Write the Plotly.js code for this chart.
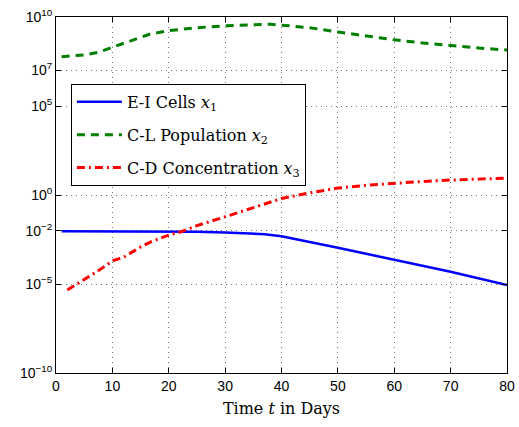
<!DOCTYPE html>
<html>
<head>
<meta charset="utf-8">
<script src="https://cdn.plot.ly/plotly-3.0.1.min.js"></script>
<style>html,body{margin:0;padding:0;background:#fff;}#chart{width:519px;height:427px;}</style>
</head>
<body>
<div id="chart"></div>
<script>
// Series 1: E-I Cells x1
const t1 = [1, 5, 10, 15, 20, 25, 30, 34, 37, 40, 42, 45, 50, 55, 60, 65, 70, 75, 80];
const x1 = [9.3e-3, 9.3e-3, 9.3e-3, 9.1e-3, 8.9e-3, 8.5e-3, 7.9e-3, 7.3e-3, 6.3e-3, 4.8e-3, 3.6e-3, 2.3e-3, 1.1e-3, 5.0e-4, 2.2e-4, 1.05e-4, 4.9e-5, 2.1e-5, 8.7e-6];
// Series 2: C-L Population x2
const t2 = [1, 3, 5, 7.5, 10, 13, 16.7, 20, 25, 30, 35, 38, 40, 43, 45, 50, 55, 60, 65, 70, 75, 80];
const x2 = [5.9e7, 6.3e7, 7.4e7, 1.05e8, 2.0e8, 4.5e8, 1.1e9, 1.7e9, 2.5e9, 3.2e9, 3.8e9, 3.9e9, 3.5e9, 2.8e9, 2.5e9, 1.45e9, 8.5e8, 5.2e8, 3.5e8, 2.4e8, 1.8e8, 1.4e8];
// Series 3: C-D Concentration x3
const t3 = [2, 4, 6, 8, 10, 12, 15, 17, 20, 22, 25, 30, 33, 36, 40, 44, 50, 55, 60, 65, 70, 75, 80];
const x3 = [4.6e-6, 1.1e-5, 2.8e-5, 7.1e-5, 2.0e-4, 3.2e-4, 1.2e-3, 2.5e-3, 5.6e-3, 8.3e-3, 1.9e-2, 6.0e-2, 0.12, 0.24, 0.63, 1.15, 2.45, 3.5, 4.7, 5.75, 6.9, 7.9, 8.9];

const names = ['E-I Cells <i>x</i><sub>1</sub>', 'C-L Population <i>x</i><sub>2</sub>', 'C-D Concentration <i>x</i><sub>3</sub>'];
const xTicks = [0, 10, 20, 30, 40, 50, 60, 70, 80];
const yTickVals = [1e-10, 1e-5, 1e-2, 1, 1e5, 1e7, 1e10];
const yTickText = ['10<sup>\u221210</sup>', '10<sup>\u22125</sup>', '10<sup>\u22122</sup>', '10<sup>0</sup>', '10<sup>5</sup>', '10<sup>7</sup>', '10<sup>10</sup>'];

const traces = [
  {x: t1, y: x1, name: names[0], mode: 'lines', legendgroup: 'a', line: {color: '#0000ff', width: 2.5}},
  {x: t2, y: x2, name: names[1], mode: 'lines', legendgroup: 'b', line: {color: '#008000', width: 3, dash: '8px,6px'}},
  {x: t3, y: x3, name: names[2], mode: 'lines', legendgroup: 'c', line: {color: '#ff0000', width: 3, dash: '8px,4px,2px,4px'}}
];

const serif = "DejaVu Serif";
const tickFont = {family: "Liberation Sans", size: 14, color: '#000'};
const layout = {
  width: 519, height: 427,
  margin: {l: 56, r: 12, t: 17, b: 54},
  paper_bgcolor: '#fff', plot_bgcolor: '#fff',
  showlegend: true,
  legend: {
    x: 0.033, y: 0.812, xanchor: 'left', yanchor: 'top',
    bgcolor: '#fff', bordercolor: '#000', borderwidth: 1,
    font: {family: serif, size: 16, color: '#000'},
    tracegroupgap: 9, traceorder: 'grouped', itemwidth: 45
  },
  xaxis: {
    range: [0, 80], tickvals: xTicks, ticktext: xTicks.map(String),
    showline: true, linecolor: '#000', linewidth: 1, mirror: 'ticks',
    ticks: 'inside', ticklen: 5, tickcolor: '#000',
    showgrid: true, gridcolor: '#777', griddash: '1px,4px', gridwidth: 1,
    zeroline: false, tickfont: tickFont,
    title: {text: 'Time <i>t</i> in Days', font: {family: serif, size: 16, color: '#000'}, standoff: 10}
  },
  yaxis: {
    type: 'log', range: [-10, 10], tickmode: 'array', tickvals: yTickVals, ticktext: yTickText,
    showline: true, linecolor: '#000', linewidth: 1, mirror: 'ticks',
    ticks: 'inside', ticklen: 5, tickcolor: '#000',
    showgrid: true, gridcolor: '#777', griddash: '1px,4px', gridwidth: 1,
    zeroline: false, tickfont: tickFont
  }
};

Plotly.newPlot('chart', traces, layout, {displayModeBar: false, staticPlot: true});
</script>
</body>
</html>
